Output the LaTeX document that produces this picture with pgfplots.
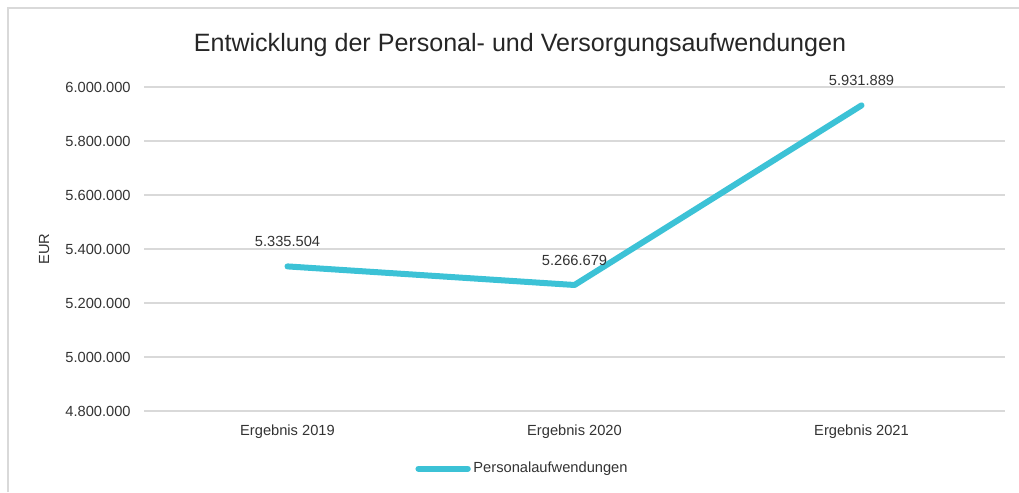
\documentclass[border=0pt]{standalone}
\usepackage{fontspec}
\setmainfont{Liberation Sans}
\usepackage{pgfplots}
\pgfplotsset{compat=1.18}
\definecolor{linecol}{HTML}{3CC2D6}
\definecolor{gridcol}{HTML}{D9D9D9}
\definecolor{txt}{HTML}{333333}
\definecolor{titlecol}{HTML}{262626}

\begin{document}
\begin{tikzpicture}
\useasboundingbox (0pt,0pt) rectangle (764.25pt,369pt);
% chart frame (top and left edge only visible)
\draw[gridcol, line width=1.2pt] (6pt,0pt) -- (6pt,363pt) -- (764.25pt,363pt);
\begin{axis}[
  at={(108pt,60.75pt)}, anchor=south west,
  scale only axis,
  width=645.75pt, height=243pt,
  xmin=-0.5, xmax=2.5,
  ymin=4800000, ymax=6000000,
  xtick={0,1,2},
  xticklabels={Ergebnis 2019, Ergebnis 2020, Ergebnis 2021},
  ytick={4800000,5000000,5200000,5400000,5600000,5800000,6000000},
  scaled y ticks=false,
  /pgf/number format/fixed,
  /pgf/number format/1000 sep={.},
  /pgf/number format/assume math mode=true,
  ticklabel style={font=\fontsize{11}{13}\selectfont, text=txt},
  yticklabel style={xshift=-6.5pt},
  xticklabel style={yshift=-6.5pt},
  axis line style={draw=none},
  tick style={draw=none},
  ymajorgrids,
  grid style={gridcol, line width=0.9pt},
  title={Entwicklung der Personal- und Versorgungsaufwendungen},
  title style={at={(axis description cs:0.4367,1.105)}, anchor=center,
    font=\fontsize{18.8}{22}\selectfont, text=titlecol},
  ylabel={EUR},
  ylabel style={at={(axis description cs:-0.116,0.5)}, anchor=center,
    font=\fontsize{11}{13}\selectfont, text=txt},
  clip=false,
  point meta=explicit symbolic,
  nodes near coords,
  nodes near coords style={anchor=center, yshift=18.75pt,
    font=\fontsize{11}{13}\selectfont, text=txt},
  legend style={at={(axis description cs:0.44,-0.178)}, anchor=center,
    draw=none, fill=none, font=\fontsize{11}{13}\selectfont, text=txt},
  legend image code/.code={\draw[#1, line cap=round] (0,0) -- (37pt,0);},
]
\addplot[color=linecol, line width=4.5pt, line cap=round, line join=round, mark=none]
  coordinates {
  (0,5335504) [5.335.504]
  (1,5266679) [5.266.679]
  (2,5931889) [5.931.889]
};
\addlegendentry{Personalaufwendungen}
\end{axis}
\end{tikzpicture}
\end{document}
